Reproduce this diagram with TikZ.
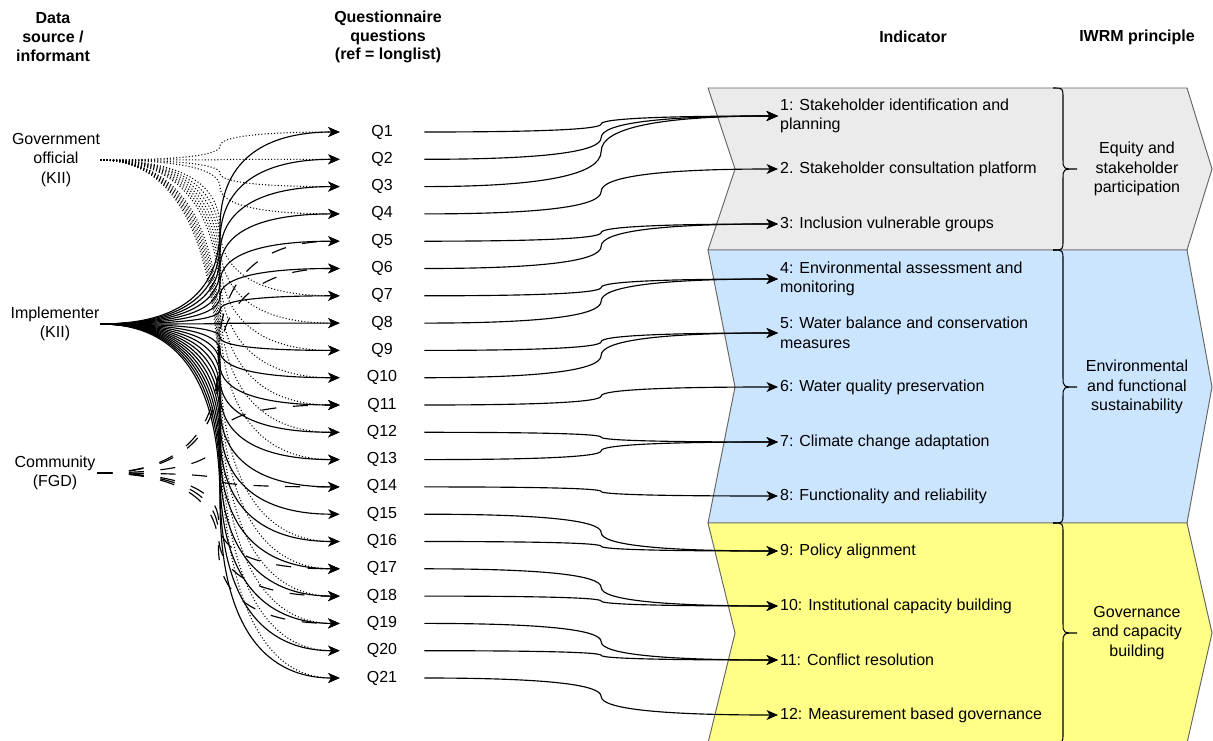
\documentclass[tikz,border=0pt]{standalone}
\usepackage{fontspec}
\setmainfont{Liberation Sans}
\usetikzlibrary{calc,arrows.meta}
\definecolor{bandgray}{HTML}{EBEBEB}
\definecolor{bandblue}{HTML}{CCE5FF}
\definecolor{bandyellow}{HTML}{FFFF88}
\definecolor{bandedge}{HTML}{666666}

% Curved elbow link: horizontal out of #2, vertical tangent half way, horizontal into #3
\newcommand{\bendlink}[3]{%
  \draw[#1] (#2.east) let \p1=(#2.east), \p2=(#3.west),
      \n1={0.5*(\x1+\x2)}, \n2={0.5*(\y1+\y2)} in
    .. controls ({\x1+2/3*(\n1-\x1)},\y1) and (\n1,{\n2+2/3*(\y1-\n2)}) .. (\n1,\n2)
    .. controls (\n1,{\n2+2/3*(\y2-\n2)}) and ({\x2-2/3*(\x2-\n1)},\y2) .. (#3.west);}

% Right curly bracket from y=#2 to y=#3, stem at x=#1, tip at y=#4
\newcommand{\rbracket}[4]{%
  \draw[line width=0.6pt] (#1-10,#2) .. controls (#1,#2) .. (#1,#2+10) -- (#1,#4-10)
    .. controls (#1,#4) .. (#1+14,#4) .. controls (#1,#4) .. (#1,#4+10)
    -- (#1,#3-10) .. controls (#1,#3) .. (#1-10,#3);}

\begin{document}
\begin{tikzpicture}[x=0.02cm,y=-0.02cm,
  every node/.style={font=\fontsize{9.1pt}{11.1pt}\selectfont, inner sep=0pt},
  hdr/.style={align=center, font=\fontsize{9.1pt}{10.6pt}\selectfont\bfseries},
  src/.style={align=center},
  qnode/.style={minimum width=1.68cm, minimum height=0.3cm},
  ind/.style={anchor=west, align=left, inner xsep=1pt},
  prin/.style={align=center},
  band/.style={draw=bandedge, line width=0.55pt},
  link/.style={line width=0.65pt, -{Stealth[length=6.5pt,width=5.6pt,inset=1.8pt]}},
  govlink/.style={link, line width=0.6pt, dash pattern=on 0.6pt off 1.2pt},
  implink/.style={link},
  comlink/.style={link, dash pattern=on 8.5pt off 9.5pt},
  qlink/.style={link}]

\useasboundingbox (0,0) rectangle (1213,740);

% indicator bands
\path[band, fill=bandgray]   (708,88)  -- (1187,88)  -- (1212,169) -- (1187,250) -- (708,250) -- (735,169) -- cycle;
\path[band, fill=bandblue]   (708,250) -- (1187,250) -- (1212,387) -- (1187,523) -- (708,523) -- (735,387) -- cycle;
\path[band, fill=bandyellow] (708,523) -- (1187,523) -- (1212,633) -- (1187,743) -- (708,743) -- (735,633) -- cycle;

% brackets grouping indicators into principles
\rbracket{1063}{88}{250}{169}
\rbracket{1063}{250}{523}{387}
\rbracket{1063}{523}{743}{633}

% column headers
\node[hdr] (hsrc) at (53,37) {Data\\source /\\informant};
\node[hdr] (hq)   at (388,37) {Questionnaire\\questions\\(ref = longlist)};
\node[hdr] (hind) at (913,37) {Indicator};
\node[hdr] (hpr)  at (1137,37) {IWRM principle};

% data sources
\node[src, minimum width=1.76cm] (gov) at (56,160) {Government\\official\\(KII)};
\node[src, minimum width=1.8cm]  (imp) at (55,324) {Implementer\\(KII)};
\node[src, minimum width=1.68cm] (com) at (55,473) {Community\\(FGD)};

% questions
\foreach \i in {1,...,21}
  {\node[qnode] (q\i) at (382,{132+(\i-1)*27.3}) {Q\i};}

% indicators
\node[ind] (i1)  at (778,116) {1: Stakeholder identification and\\planning};
\node[ind] (i2)  at (778,169) {2. Stakeholder consultation platform};
\node[ind] (i3)  at (778,224) {3: Inclusion vulnerable groups};
\node[ind] (i4)  at (778,279) {4: Environmental assessment and\\monitoring};
\node[ind] (i5)  at (778,333) {5: Water balance and conservation\\measures};
\node[ind] (i6)  at (778,387) {6: Water quality preservation};
\node[ind] (i7)  at (778,442) {7: Climate change adaptation};
\node[ind] (i8)  at (778,496) {8: Functionality and reliability};
\node[ind] (i9)  at (778,551) {9: Policy alignment};
\node[ind] (i10) at (778,606) {10: Institutional capacity building};
\node[ind] (i11) at (778,660) {11: Conflict resolution};
\node[ind] (i12) at (778,715) {12: Measurement based governance};

% principles
\node[prin] (p1) at (1137,169) {Equity and\\stakeholder\\participation};
\node[prin] (p2) at (1137,387) {Environmental\\and functional\\sustainability};
\node[prin] (p3) at (1137,633) {Governance\\and capacity\\building};

% source -> question links
\foreach \i in {1,2,3,4,7,8,9,10,11,12,13,16,17,18,19,20,21}
  {\bendlink{govlink}{gov}{q\i}}
\foreach \i in {5,6,11,14,17,18,19}
  {\bendlink{comlink}{com}{q\i}}
\foreach \i in {1,...,21}
  {\bendlink{implink}{imp}{q\i}}

% question -> indicator links
\foreach \q/\k in {1/1,2/1,3/1,4/2,5/3,6/3,7/4,8/4,9/5,10/5,11/6,12/7,13/7,14/8,15/9,16/9,17/10,18/10,19/11,20/11,21/12}
  {\bendlink{qlink}{q\q}{i\k}}

\end{tikzpicture}
\end{document}
